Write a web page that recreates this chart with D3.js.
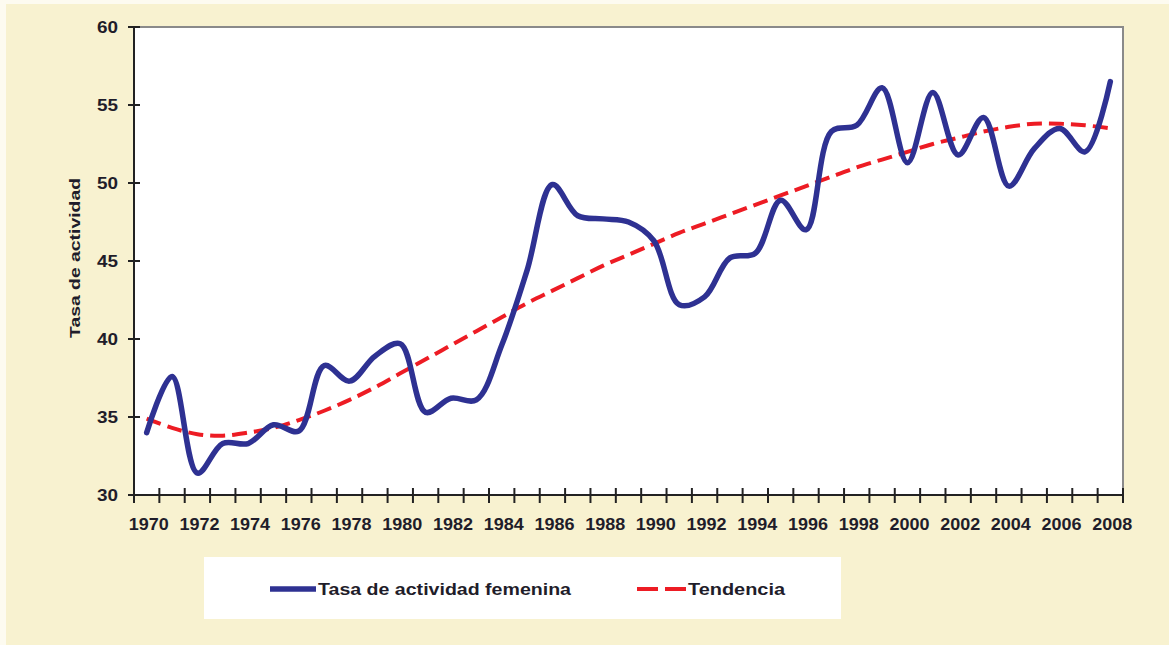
<!DOCTYPE html>
<html>
<head>
<meta charset="utf-8">
<script src="https://cdn.jsdelivr.net/npm/d3@7"></script>
<style>
  html, body { margin: 0; padding: 0; background: #ffffff; }
  svg { display: block; font-family: Arial, "Liberation Sans", sans-serif; }
</style>
</head>
<body>
<svg id="chart" width="1169" height="645"></svg>
<script>
//Data
const years = d3.range(1970, 2009);
const tasa = [34.0, 37.6, 31.4, 33.3, 33.3, 34.5, 34.1, 38.3, 37.3, 38.9,
  39.7, 35.3, 36.2, 36.1, 39.6, 44.4, 49.9, 47.9, 47.7, 47.5,
  46.3, 42.2, 42.7, 45.2, 45.5, 48.9, 47.0, 53.3, 53.7, 56.1,
  51.3, 55.8, 51.8, 54.2, 49.8, 52.2, 53.5, 52.0, 56.5];
const tendencia = [34.9, 34.3, 33.9, 33.8, 34.0, 34.3, 34.8, 35.4, 36.1, 36.9,
  37.8, 38.7, 39.6, 40.5, 41.4, 42.3, 43.1, 43.9, 44.7, 45.4,
  46.1, 46.8, 47.4, 48.0, 48.6, 49.2, 49.8, 50.4, 51.0, 51.5,
  52.0, 52.5, 52.9, 53.3, 53.6, 53.8, 53.8, 53.7, 53.5];
const yTicks = [30, 35, 40, 45, 50, 55, 60];
const xLabels = years.filter(y => y % 2 === 0);
const legendNames = ['Tasa de actividad femenina', 'Tendencia'];
const yTitle = 'Tasa de actividad';

const BLUE = '#2e3192', RED = '#ed1c24', INK = '#1f1d2a';

const svg = d3.select('#chart');
const W = 1169, H = 645;

// page background (cream, thin white edge top/left)
svg.append('rect').attr('x', 0).attr('y', 0).attr('width', W).attr('height', H).attr('fill', '#fdfbf0');
svg.append('rect').attr('x', 6).attr('y', 4).attr('width', W - 6).attr('height', H - 4).attr('fill', '#f8f2d0');

const plot = { left: 134, right: 1123, top: 27, bottom: 495 };

const x = d3.scaleBand().domain(years).range([plot.left, plot.right]).padding(0);
const y = d3.scaleLinear().domain([30, 60]).range([plot.bottom, plot.top]);
const cx = yr => x(yr) + x.bandwidth() / 2;

// plot area
svg.append('rect')
  .attr('x', plot.left).attr('y', plot.top)
  .attr('width', plot.right - plot.left).attr('height', plot.bottom - plot.top)
  .attr('fill', '#ffffff').attr('stroke', '#8a8a8a').attr('stroke-width', 2);

// y axis
const gy = svg.append('g').attr('transform', `translate(${plot.left},0)`);
gy.append('line').attr('x1', 0).attr('x2', 0).attr('y1', plot.top).attr('y2', plot.bottom)
  .attr('stroke', '#222').attr('stroke-width', 2);
yTicks.forEach(v => {
  gy.append('line').attr('x1', -6).attr('x2', 6).attr('y1', y(v)).attr('y2', y(v))
    .attr('stroke', '#222').attr('stroke-width', 2);
  gy.append('text').attr('x', -16).attr('y', y(v)).attr('dy', '0.36em')
    .attr('text-anchor', 'end').attr('font-size', 16).attr('font-weight', 'bold')
    .attr('fill', INK).attr('textLength', 21).attr('lengthAdjust', 'spacingAndGlyphs')
    .text(v);
});

// x axis (category style: ticks at band edges, labels centred)
const gx = svg.append('g').attr('transform', `translate(0,${plot.bottom})`);
gx.append('line').attr('x1', plot.left).attr('x2', plot.right).attr('y1', 0).attr('y2', 0)
  .attr('stroke', '#222').attr('stroke-width', 2);
years.concat([years[years.length - 1] + 1]).forEach((yr, i) => {
  const px = i < years.length ? x(yr) : plot.right;
  gx.append('line').attr('x1', px).attr('x2', px).attr('y1', -7).attr('y2', 8)
    .attr('stroke', '#222').attr('stroke-width', 2);
});
xLabels.forEach(yr => {
  gx.append('text').attr('x', cx(yr) + 2).attr('y', 35)
    .attr('text-anchor', 'middle').attr('font-size', 16).attr('font-weight', 'bold')
    .attr('fill', INK).attr('textLength', 40).attr('lengthAdjust', 'spacingAndGlyphs')
    .text(yr);
});

// y title
svg.append('text')
  .attr('transform', 'translate(80,258) rotate(-90)')
  .attr('text-anchor', 'middle').attr('font-size', 14).attr('font-weight', 'bold')
  .attr('fill', INK).attr('textLength', 160).attr('lengthAdjust', 'spacingAndGlyphs')
  .text(yTitle);

// lines
const line = d3.line().x((d, i) => cx(years[i])).y(d => y(d)).curve(d3.curveCatmullRom.alpha(0.5));

svg.append('path').datum(tendencia)
  .attr('d', line).attr('fill', 'none')
  .attr('stroke', RED).attr('stroke-width', 4).attr('stroke-dasharray', '15,7');

svg.append('path').datum(tasa)
  .attr('d', line).attr('fill', 'none')
  .attr('stroke', BLUE).attr('stroke-width', 5.5)
  .attr('stroke-linejoin', 'round').attr('stroke-linecap', 'round');

// legend
const lg = svg.append('g');
lg.append('rect').attr('x', 204).attr('y', 557).attr('width', 637).attr('height', 62).attr('fill', '#ffffff');
lg.append('line').attr('x1', 270).attr('x2', 316).attr('y1', 589).attr('y2', 589)
  .attr('stroke', BLUE).attr('stroke-width', 5.5);
lg.append('text').attr('x', 318).attr('y', 589).attr('dy', '0.36em')
  .attr('font-size', 16).attr('font-weight', 'bold').attr('fill', INK)
  .attr('textLength', 253).attr('lengthAdjust', 'spacingAndGlyphs')
  .text(legendNames[0]);
lg.append('line').attr('x1', 637).attr('x2', 686).attr('y1', 589).attr('y2', 589)
  .attr('stroke', RED).attr('stroke-width', 4).attr('stroke-dasharray', '21,7');
lg.append('text').attr('x', 688).attr('y', 589).attr('dy', '0.36em')
  .attr('font-size', 16).attr('font-weight', 'bold').attr('fill', INK)
  .attr('textLength', 97).attr('lengthAdjust', 'spacingAndGlyphs')
  .text(legendNames[1]);
</script>
</body>
</html>
